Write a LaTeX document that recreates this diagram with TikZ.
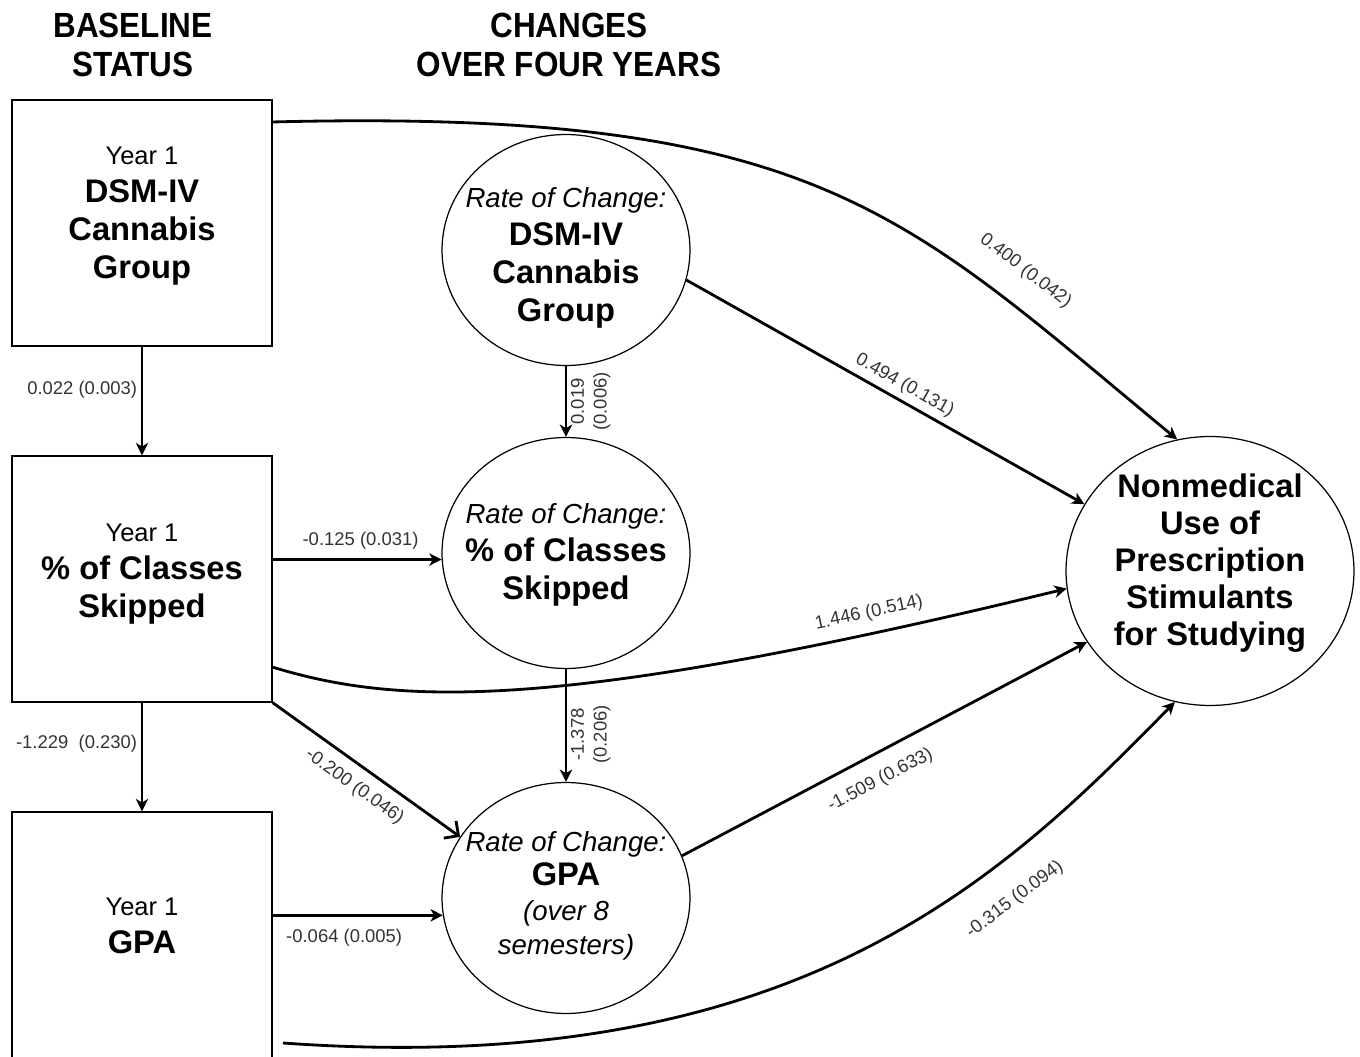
\documentclass[tikz,border=0pt]{standalone}
\usepackage{fontspec}
\setmainfont{Liberation Sans}
\newfontfamily\narrowsans[FakeStretch=0.9]{Liberation Sans}
\usepackage{tikz}
\usepackage{tkz-euclide}
\usetikzlibrary{shapes.geometric,arrows.meta}

\newcommand\yearfont{\fontsize{14.5}{20}\selectfont\mdseries}
\newcommand\boldfont{\fontsize{18.6}{21.5}\selectfont\bfseries}
\newcommand\ratefont{\fontsize{15.7}{19}\selectfont\mdseries\itshape}
\newcommand\coeffont{\fontsize{10.5}{13}\selectfont}
\newcommand\headfont{\narrowsans\fontsize{19.9}{22}\selectfont\bfseries}

\begin{document}
\begin{tikzpicture}[x=0.02cm,y=-0.02cm,
    hdr/.style={font=\headfont,align=center},
    box/.style={draw,line width=0.85pt,minimum width=5.2cm,minimum height=4.92cm,align=center,inner sep=0pt,font=\boldfont},
    rate/.style={draw,ellipse,line width=0.7pt,minimum width=4.96cm,minimum height=4.62cm,align=center,inner xsep=-0.4cm,inner ysep=0pt,font=\boldfont},
    arr/.style={line width=1.6pt,-{Stealth[length=7pt,width=7pt,inset=2pt]}},
    coef/.style={font=\coeffont,text=black!80,inner sep=2pt}]
    \useasboundingbox (0,0) rectangle (1360,1057);
    \tkzDefPoints{133/45/H1,569/45/H2,142/223/C1,142/579/C2,142/935/C3,1210/571/M}
    \tkzDefPoints{142/216/B1,142/574/B2,142/926/B3,566/258/R1,566/555/R2,566/896/R3,1210/563/N}
    \tkzDefPoints{272/122/T,283/1043/S}
    % column headers
    \node[hdr] (base) at (H1) {BASELINE\\STATUS};
    \node[hdr] (chg) at (H2) {CHANGES\\OVER FOUR YEARS};
    % baseline boxes (text a little above centre, as drawn)
    \node[box] (b1) at (C1) {};
    \node[box] (b2) at (C2) {};
    \node[box] (b3) at (C3) {};
    \node[align=center,font=\boldfont] (b1t) at (B1) {{\yearfont Year 1}\\DSM-IV\\Cannabis\\Group};
    \node[align=center,font=\boldfont] (b2t) at (B2) {{\yearfont Year 1}\\\% of Classes\\Skipped};
    \node[align=center,font=\boldfont] (b3t) at (B3) {{\yearfont Year 1}\\GPA};
    % rates of change
    \node[rate] (r1) at (566,250) {};
    \node[rate] (r2) at (566,553) {};
    \node[rate] (r3) at (566,898) {};
    \node[align=center,font=\boldfont] (r1t) at (R1) {{\ratefont Rate of Change:}\\DSM-IV\\Cannabis\\Group};
    \node[align=center,font=\boldfont] (r2t) at (R2) {{\ratefont Rate of Change:}\\\% of Classes\\Skipped};
    \node[align=center,font=\fontsize{18.6}{19.6}\selectfont\bfseries] (r3t) at (R3)
      {{\ratefont Rate of Change:}\\GPA\\{\ratefont (over 8}\\{\ratefont semesters)}};
    \node[draw,ellipse,line width=0.7pt,minimum width=5.76cm,minimum height=5.38cm,inner sep=0pt] (n) at (M) {};
    \node[align=center,font=\fontsize{18.6}{21}\selectfont\bfseries] (nt) at (N)
      {Nonmedical\\Use of\\Prescription\\Stimulants\\for Studying};
    % paths
    \draw[arr] (b1) -- node[coef,left,pos=.4] {0.022 (0.003)} (b2);
    \draw[arr] (b2) -- node[coef,left,pos=.38] {-1.229\ \ (0.230)} (b3);
    \draw[arr] (r1) -- node[coef,anchor=north,rotate=90,align=center,pos=.5] {0.019\\(0.006)} (r2);
    \draw[arr] (r2) -- node[coef,anchor=north,rotate=90,align=center,pos=.58] {-1.378\\(0.206)} (r3);
    \draw[arr] (b2.east |- r2.183) -- node[coef,above=3pt,pos=.52] {-0.125 (0.031)} (r2.183);
    \draw[arr] (b3.east |- r3.188) -- node[coef,below=5pt,pos=.42] {-0.064 (0.005)} (r3.188);
    \draw[line width=1.6pt,-{Straight Barb[length=6pt,width=12pt]}] (b2.south east)
      -- node[coef,sloped,below=4pt,pos=.5] {-0.200 (0.046)} (r3.150);
    \draw[arr] (r1.-14) -- node[coef,sloped,above=1pt,pos=.53] {0.494 (0.131)} (n.152);
    \draw[arr] (T) .. controls (820,108) and (905,215) ..
      node[coef,sloped,above=12pt,pos=.76] {0.400 (0.042)} (n.104);
    \draw[arr] (b2.-34) .. controls (400,706) and (560,712) ..
      node[coef,sloped,above=4pt,pos=.86] {1.446 (0.514)} (n.187);
    \draw[arr] (r3.20) -- node[coef,sloped,below=7pt,pos=.46] {-1.509 (0.633)} (n.210);
    \draw[arr] (S) .. controls (800,1080) and (1005,875) ..
      node[coef,sloped,below=14pt,pos=.68] {-0.315 (0.094)} (n.255);
  \end{tikzpicture}
\end{document}
